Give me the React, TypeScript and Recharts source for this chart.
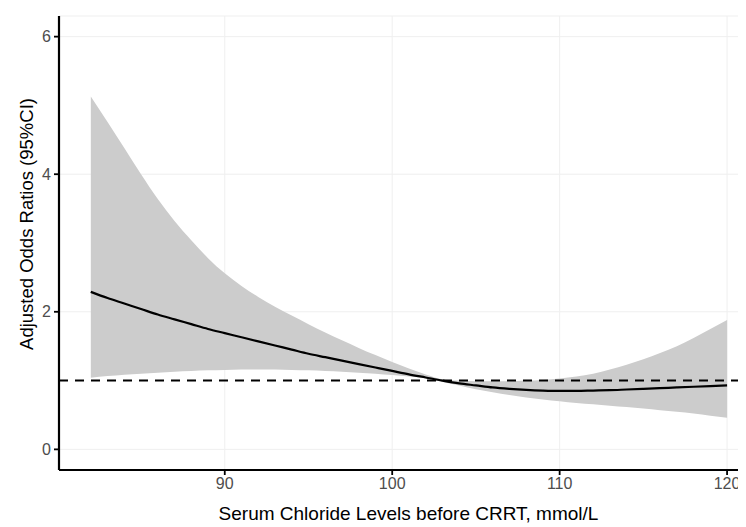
import React from 'react';
import { ComposedChart, Area, Line, XAxis, YAxis, CartesianGrid, ReferenceLine } from 'recharts';

const chloride = [82, 83, 84, 85, 86, 87, 88, 89, 90, 91, 92, 93, 94, 95, 96, 97, 98, 99, 100, 101, 102, 103, 104, 105, 106, 107, 108, 109, 110, 111, 112, 113, 114, 115, 116, 117, 118, 119, 120];
const oddsRatio = [2.29, 2.2, 2.12, 2.04, 1.96, 1.89, 1.82, 1.75, 1.69, 1.63, 1.57, 1.51, 1.45, 1.39, 1.34, 1.29, 1.24, 1.19, 1.14, 1.09, 1.045, 1.0, 0.96, 0.93, 0.9, 0.88, 0.865, 0.855, 0.85, 0.85, 0.855, 0.86, 0.87, 0.88, 0.89, 0.9, 0.91, 0.92, 0.93];
const upperCI = [5.13, 4.76, 4.38, 4.0, 3.64, 3.32, 3.04, 2.78, 2.56, 2.375, 2.215, 2.075, 1.945, 1.82, 1.7, 1.585, 1.475, 1.37, 1.27, 1.175, 1.09, 1.02, 1.0, 0.99, 0.99, 0.99, 1.0, 1.01, 1.03, 1.06, 1.1, 1.16, 1.23, 1.31, 1.4, 1.5, 1.62, 1.75, 1.88];
const lowerCI = [1.04, 1.065, 1.085, 1.1, 1.115, 1.13, 1.14, 1.15, 1.155, 1.16, 1.16, 1.16, 1.155, 1.15, 1.14, 1.13, 1.115, 1.1, 1.08, 1.06, 1.035, 0.98, 0.93, 0.875, 0.83, 0.79, 0.755, 0.725, 0.7, 0.675, 0.655, 0.635, 0.615, 0.595, 0.57, 0.545, 0.52, 0.49, 0.46];
const xTicks = [90, 100, 110, 120];
const yTicks = [0, 2, 4, 6];
const xTitle = 'Serum Chloride Levels before CRRT, mmol/L';
const yTitle = 'Adjusted Odds Ratios (95%CI)';

const data = chloride.map((x, i) => ({ x, fit: oddsRatio[i], ci: [lowerCI[i], upperCI[i]] }));

const FONT = '"Liberation Sans", Arial, sans-serif';

const XTitle = (props: any) => {
  const vb = props.viewBox || { x: 51, y: 462, width: 687, height: 57 };
  return (
    <text x={vb.x + vb.width / 2 + 6} y={vb.y + vb.height - 7} textAnchor="middle" fontSize={19} fill="#000" fontFamily={FONT}>
      {xTitle}
    </text>
  );
};

const YTitle = () => {
  const cx = 25;
  const cy = 216;
  return (
    <text x={cx} y={cy} transform={`rotate(-90, ${cx}, ${cy})`} textAnchor="middle" fontSize={18.5} fill="#000" fontFamily={FONT}>
      {yTitle}
    </text>
  );
};

export default function App() {
  return (
    <div style={{ width: 738, height: 519, fontFamily: FONT }}>
      <ComposedChart width={738} height={519} data={data} margin={{ top: 8, right: 0, bottom: 0, left: 0 }}>
        <CartesianGrid stroke="#efefef" strokeWidth={1} />
        <XAxis
          dataKey="x"
          type="number"
          domain={[80.1, 121.13]}
          allowDataOverflow
          ticks={xTicks}
          height={57}
          tickSize={5}
          tickMargin={3}
          tick={{ fill: '#4d4d4d', fontSize: 16, fontFamily: FONT }}
          axisLine={{ stroke: '#000', strokeWidth: 2.2 }}
          tickLine={{ stroke: '#000', strokeWidth: 1.8 }}
          label={<XTitle />}
        />
        <YAxis
          type="number"
          domain={[-0.3, 6.3]}
          allowDataOverflow
          ticks={yTicks}
          width={51}
          tickSize={5}
          tickMargin={3}
          tick={{ fill: '#4d4d4d', fontSize: 16, fontFamily: FONT }}
          axisLine={{ stroke: '#000', strokeWidth: 2.2 }}
          tickLine={{ stroke: '#000', strokeWidth: 1.8 }}
          label={<YTitle />}
        />
        <Area dataKey="ci" type="monotone" fill="#cccccc" fillOpacity={1} stroke="none" isAnimationActive={false} />
        <Line dataKey="fit" type="monotone" stroke="#000" strokeWidth={2.2} dot={false} isAnimationActive={false} />
        <ReferenceLine y={1} stroke="#000" strokeWidth={2} strokeDasharray="9 7" />
      </ComposedChart>
    </div>
  );
}
